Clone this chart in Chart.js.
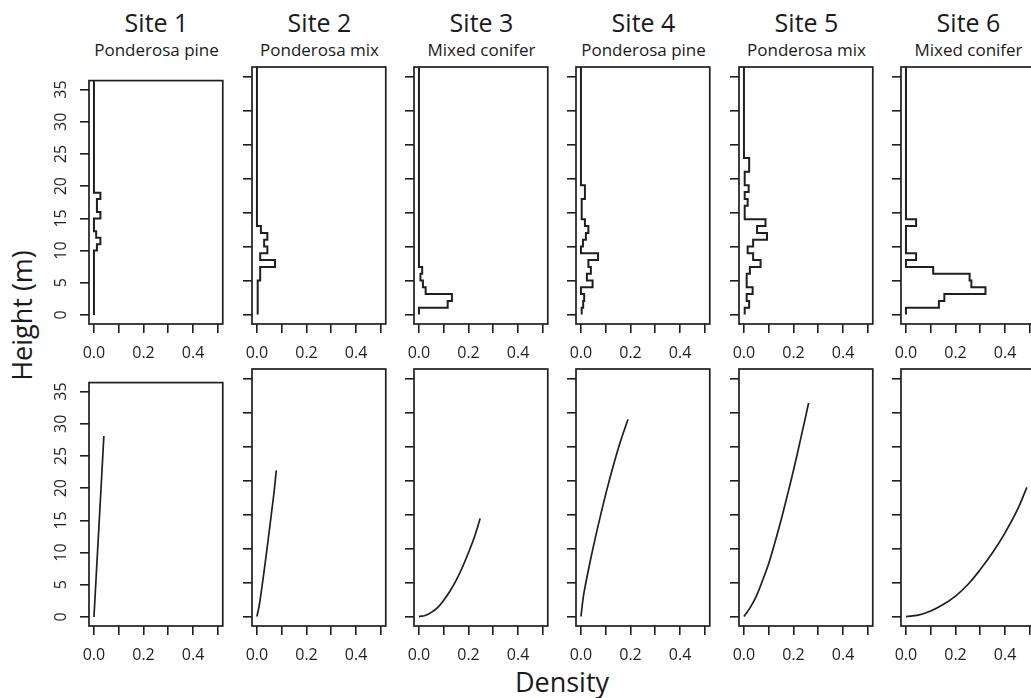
<!DOCTYPE html>
<html>
<head>
<meta charset="utf-8">
<script src="https://cdn.jsdelivr.net/npm/chart.js@4.4.1/dist/chart.umd.min.js"></script>
<style>
  html, body { margin: 0; padding: 0; background: #fff; overflow: hidden; }
  body { width: 1031px; height: 698px; position: relative; font-family: "Open Sans", sans-serif; color: #1a1a1a; }
  canvas { position: absolute; }
  .site { position: absolute; width: 200px; text-align: center; font-size: 25px; line-height: 25px; white-space: nowrap; }
  .sub { position: absolute; width: 200px; text-align: center; font-size: 17px; line-height: 17px; white-space: nowrap; }
  #xlab { position: absolute; left: 462px; top: 668px; width: 200px; text-align: center; font-size: 27px; line-height: 27px; }
  #ylab { position: absolute; left: -79.5px; top: 301.5px; width: 200px; text-align: center; font-size: 27px; line-height: 27px; transform: rotate(-90deg); }
</style>
</head>
<body>
<div id="ylab">Height (m)</div>
<div id="xlab">Density</div>
<script>
const siteNames = ['Site 1', 'Site 2', 'Site 3', 'Site 4', 'Site 5', 'Site 6'];
const forestTypes = ['Ponderosa pine', 'Ponderosa mix', 'Mixed conifer', 'Ponderosa pine', 'Ponderosa mix', 'Mixed conifer'];

// observed height distributions (density per 1 m bin, starting at 0 m)
// the last bin is carried up to histTop
const histSite1 = [0, 0, 0, 0, 0, 0, 0, 0, 0, 0, 0.012, 0.026, 0.009, 0, 0, 0.026, 0.012, 0.012, 0.026, 0];
const histSite2 = [0.003, 0.003, 0.003, 0.003, 0.003, 0.013, 0.013, 0.073, 0.013, 0.042, 0.029, 0.042, 0.016, 0];
const histSite3 = [0, 0.116, 0.133, 0.027, 0.016, 0.006, 0.013, 0];
const histSite4 = [0.003, 0.009, 0.013, 0, 0.047, 0.024, 0.04, 0.03, 0.069, 0, 0.008, 0.02, 0.03, 0.016, 0.003, 0.003, 0.003, 0.016, 0.016, 0];
const histSite5 = [0.003, 0.021, 0.011, 0.035, 0.011, 0.011, 0.024, 0.067, 0.037, 0.015, 0.037, 0.093, 0.053, 0.087, 0.003, 0.003, 0.015, 0.003, 0.019, 0.003, 0.003, 0.021, 0.021, 0];
const histSite6 = [0, 0.133, 0.155, 0.321, 0.264, 0.257, 0.11, 0, 0.041, 0, 0, 0, 0, 0.041, 0];
const histTop = 40;

// fitted curves (density, height)
const fitSite1Density = [0, 0.01, 0.02, 0.03, 0.04];
const fitSite1Height = [0, 7.0, 14.0, 21.0, 28.1];
const fitSite2Density = [0, 0.01, 0.02, 0.03, 0.04, 0.05, 0.06, 0.07, 0.078];
const fitSite2Height = [0, 1.8, 4.3, 7.0, 9.8, 12.7, 15.6, 18.6, 21.5];
const fitSite3Density = [0, 0.025, 0.05, 0.075, 0.1, 0.125, 0.15, 0.175, 0.2, 0.225, 0.247];
const fitSite3Height = [0, 0.15, 0.6, 1.3, 2.4, 3.7, 5.3, 7.2, 9.4, 11.8, 14.4];
const fitSite4Density = [0, 0.01, 0.02, 0.036, 0.06, 0.08, 0.105, 0.133, 0.16, 0.19];
const fitSite4Height = [0, 3.0, 5.0, 7.9, 11.9, 15.0, 18.7, 22.5, 25.8, 29.0];
const fitSite5Density = [0, 0.025, 0.05, 0.075, 0.1, 0.125, 0.15, 0.175, 0.2, 0.23, 0.261];
const fitSite5Height = [0, 1.3, 3.0, 5.3, 7.8, 10.9, 14.2, 17.8, 21.5, 26.3, 31.4];
const fitSite6Density = [0, 0.05, 0.1, 0.15, 0.2, 0.25, 0.3, 0.35, 0.4, 0.45, 0.488];
const fitSite6Height = [0, 0.2, 0.8, 1.75, 3.0, 4.7, 6.9, 9.4, 12.3, 15.7, 19.0];

const xTicks = [0, 0.1, 0.2, 0.3, 0.4, 0.5];
const xTickLabels = [0, 0.2, 0.4];
const yTicks = [0, 5, 10, 15, 20, 25, 30, 35];

const hists = [histSite1, histSite2, histSite3, histSite4, histSite5, histSite6];
const fits = [
    [fitSite1Density, fitSite1Height], [fitSite2Density, fitSite2Height], [fitSite3Density, fitSite3Height],
    [fitSite4Density, fitSite4Height], [fitSite5Density, fitSite5Height], [fitSite6Density, fitSite6Height]
];

// panel layout
const colLeft = [89, 252, 414, 576, 739, 901];
const rowTop = [67, 369];
const boxW = 135, boxH = 257;
const padL = 45, padR = 5, padT = 5, padB = 45;
const ink = '#1f1f1f';
const tickFont = { family: '"Open Sans", sans-serif', size: 16 };

// titles
colLeft.forEach((left, i) => {
    const t = document.createElement('div');
    t.className = 'site';
    t.textContent = siteNames[i];
    t.style.left = (left + boxW / 2 - 100) + 'px';
    t.style.top = '10px';
    document.body.appendChild(t);
    const s = document.createElement('div');
    s.className = 'sub';
    s.textContent = forestTypes[i];
    s.style.left = (left + boxW / 2 - 100) + 'px';
    s.style.top = '41px';
    document.body.appendChild(s);
});

const boxPlugin = {
    id: 'box',
    afterDraw(chart) {
        const { ctx, chartArea: a } = chart;
        ctx.save();
        ctx.strokeStyle = ink;
        ctx.lineWidth = 1.7;
        ctx.strokeRect(a.left, a.top, a.right - a.left, a.bottom - a.top);
        ctx.restore();
    }
};

function histPoints(dens) {
    const pts = [{ x: dens[0], y: 0 }];
    dens.forEach((d, i) => pts.push({ x: d, y: i === dens.length - 1 ? histTop : i + 1 }));
    return pts;
}

function makePanel(col, row, points, isHist) {
    const cv = document.createElement('canvas');
    cv.width = padL + boxW + padR;
    cv.height = padT + boxH + padB;
    cv.style.left = (colLeft[col] - padL) + 'px';
    cv.style.top = (rowTop[row] - padT) + 'px';
    document.body.appendChild(cv);

    const grid = { drawOnChartArea: false, drawTicks: true, tickLength: 9, tickWidth: 1.6, tickColor: ink, color: ink, lineWidth: 1.6 };

    new Chart(cv, {
        type: 'line',
        data: {
            datasets: [{
                data: points,
                borderColor: ink,
                borderWidth: isHist ? 2 : 1.7,
                pointRadius: 0,
                fill: false,
                stepped: isHist ? 'before' : false,
                tension: isHist ? 0 : 0.4
            }]
        },
        options: {
            responsive: false,
            animation: false,
            devicePixelRatio: 1,
            layout: { padding: { top: padT, right: padR, left: 0, bottom: 0 } },
            plugins: { legend: { display: false }, tooltip: { enabled: false } },
            scales: {
                x: {
                    type: 'linear', min: -0.02, max: 0.52,
                    afterBuildTicks: s => { s.ticks = xTicks.map(v => ({ value: v })); },
                    afterFit: s => { s.height = padB; },
                    grid: grid,
                    border: { display: false },
                    ticks: {
                        autoSkip: false, maxRotation: 0, minRotation: 0, padding: 11,
                        font: tickFont, color: ink,
                        callback: v => xTickLabels.some(t => Math.abs(t - v) < 1e-9) ? v.toFixed(1) : ''
                    }
                },
                y: {
                    type: 'linear', min: -1.4, max: 36.4,
                    afterBuildTicks: s => { s.ticks = yTicks.map(v => ({ value: v })); },
                    afterFit: s => { s.width = padL; },
                    grid: grid,
                    border: { display: false },
                    ticks: {
                        display: col === 0,
                        autoSkip: false, minRotation: 90, maxRotation: 90, crossAlign: 'center', padding: 9,
                        font: tickFont, color: ink
                    }
                }
            }
        },
        plugins: [boxPlugin]
    });
}

hists.forEach((h, i) => makePanel(i, 0, histPoints(h), true));
fits.forEach(([dx, hy], i) => makePanel(i, 1, dx.map((d, j) => ({ x: d, y: hy[j] })), false));
</script>
</body>
</html>
